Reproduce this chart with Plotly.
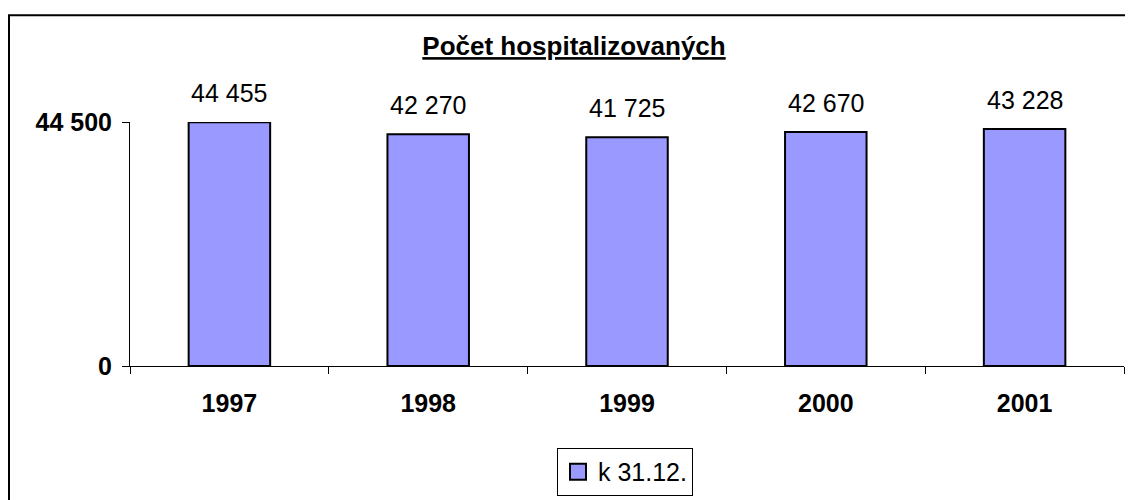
import plotly.graph_objects as go

years = ["1997", "1998", "1999", "2000", "2001"]
values = [44455, 42270, 41725, 42670, 43228]
series_name = "k 31.12."
title_text = "Počet hospitalizovaných"
y_ticks = [0, 44500]

# page body has an 8px margin, so the figure is drawn offset by (8, 8)
OFF = 8
W, H = 1133, 500
L = 130 - OFF
T = 122 - OFF
R = W - (1124 - OFF)
B = H - (369 - OFF)
pw = W - L - R
ph = H - T - B

FONT = "Liberation Sans, Arial"
BAR_COLOR = "#9999FF"

def px_x(x):
    return (x - OFF - L) / pw

def px_y(y):
    return (H - B - (y - OFF)) / ph

fig = go.Figure()
fig.add_trace(go.Bar(
    x=years, y=values, name=series_name,
    marker=dict(color=BAR_COLOR, line=dict(color="black", width=2)),
    showlegend=False,
))
# legend entry with a larger square swatch, as in the reference
fig.add_trace(go.Scatter(
    x=[None], y=[None], mode="markers", name=series_name,
    marker=dict(symbol="square", size=16, color=BAR_COLOR, line=dict(color="black", width=2)),
    showlegend=True, hoverinfo="skip",
))

for i, v in enumerate(values):
    fig.add_annotation(x=i, y=v, text=f"{v:,}".replace(",", " "), showarrow=False,
                       yanchor="bottom", yshift=13,
                       font=dict(family=FONT, size=25, color="black"))

fig.update_layout(
    width=W, height=H,
    margin=dict(l=L, r=R, t=T, b=B),
    paper_bgcolor="white", plot_bgcolor="white",
    separators=". ",
    bargap=0.59,
    font=dict(family=FONT, color="black"),
    title=dict(text=f"<b><u>{title_text}</u></b>", x=px_x(574), xref="paper", xanchor="center",
               y=1 - (46 - OFF) / H, yanchor="middle",
               font=dict(size=26, family=FONT, color="black")),
    legend=dict(x=px_x(557), y=px_y(452), xanchor="left", yanchor="top",
                bordercolor="black", borderwidth=1, bgcolor="white",
                font=dict(size=25, family=FONT),
                itemwidth=30),
    xaxis=dict(type="category", automargin=False,
               showline=True, linecolor="black", linewidth=1, ticks="outside",
               tickson="boundaries", ticklen=7, tickcolor="black",
               tickfont=dict(size=25, family=FONT, weight="bold"),
               ticklabelstandoff=15, showgrid=False, tickangle=0),
    yaxis=dict(range=[0, 44500], tickvals=y_ticks, tickformat=",d", automargin=False,
               showline=True, linecolor="black", linewidth=1, ticks="outside",
               ticklen=7, tickcolor="black", showgrid=False, zeroline=False,
               tickfont=dict(size=25, family=FONT, weight="bold"),
               ticklabelstandoff=5),
    shapes=[dict(type="rect", xref="paper", yref="paper",
                 x0=px_x(9), x1=px_x(W + 20), y0=px_y(H + 20), y1=px_y(14),
                 line=dict(color="black", width=2), fillcolor="rgba(0,0,0,0)", layer="below")],
)
fig.update_traces(cliponaxis=False)

fig.write_html("out.html")
